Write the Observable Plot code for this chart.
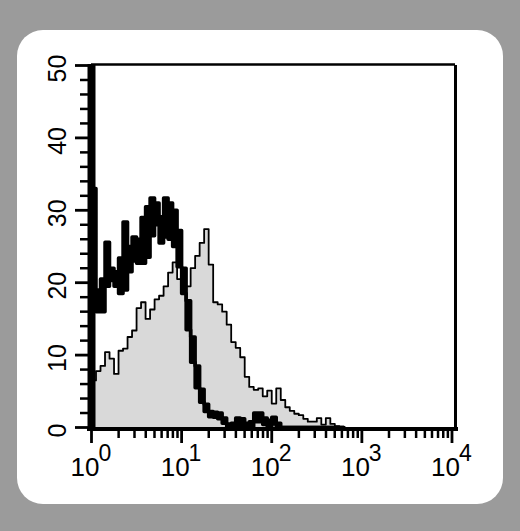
<!DOCTYPE html>
<html>
<head>
<meta charset="utf-8">
<script src="https://cdn.jsdelivr.net/npm/d3@7"></script>
<script src="https://cdn.jsdelivr.net/npm/@observablehq/plot@0.6"></script>
<style>
  html, body { margin: 0; padding: 0; }
  body { width: 520px; height: 531px; background: #9b9b9b; position: relative; overflow: hidden; }
  #panel { position: absolute; left: 17px; top: 30px; width: 486px; height: 474px; background: #ffffff; border-radius: 26px; }
  #chart { position: absolute; left: 0; top: 0; }
</style>
</head>
<body>
<div id="panel"></div>
<div id="chart"></div>
<script>
// Histogram channels: bins of 0.05 decade starting at 10^0
const binStep = 0.05;

// Gray filled histogram (thin outline)
const grayCounts = [
  6.5, 7.8, 8.5, 10.4, 9.5, 7.4, 10.6, 10.9, 12.5, 13.4,
  16.5, 17.3, 15.0, 16.3, 17.7, 18.2, 19.5, 21.4, 22.8, 20.5,
  18.5, 19.5, 22.0, 23.7, 25.5, 27.4, 22.5, 17.3, 17.0, 16.0,
  14.2, 11.8, 11.0, 9.7, 7.0, 5.6, 5.2, 5.4, 4.3, 5.1,
  3.3, 5.4, 3.8, 2.8, 2.3, 1.9, 1.7, 1.2, 0.8, 0.8,
  1.3, 0.4, 1.3, 0.5, 0.2, 0
];

// Thick black histogram: upper and lower envelope of the noisy channel counts
const blackHigh = [
  33, 19, 20.5, 25.6, 22, 21.5, 23.4, 28.4, 25, 26.3,
  26, 29, 30.5, 31.7, 31, 29.1, 31.7, 31, 30, 27.2,
  22, 17.5, 12.5, 8.5, 5.3, 3.2, 2.2, 2.1, 2.0, 1.3,
  0.5, 0.6, 1.3, 1.2, 0.6, 0.8, 2.0, 2.0, 1.3, 1.0,
  1.4, 0.6, 0, 0, 0, 0, 0, 0, 0, 0,
  0, 0, 0, 0, 0, 0
];
const blackLow = [
  16.5, 16, 16, 19.5, 20.3, 19.5, 18.5, 19, 21.5, 23,
  22.7, 22.7, 23.5, 26.5, 28, 25.5, 26.3, 26, 25, 22.2,
  18.5, 13.5, 9, 5.5, 3.5, 2.2, 1.5, 1.4, 1.2, 0.6,
  0, 0, 0.3, 0.3, 0, 0, 0.8, 0.8, 0.4, 0,
  0.5, 0, 0, 0, 0, 0, 0, 0, 0, 0,
  0, 0, 0, 0, 0, 0
];

// Axis ticks
const yMajor = [0, 10, 20, 30, 40, 50];
const yMinor = [2, 4, 6, 8, 12, 14, 16, 18, 22, 24, 26, 28, 32, 34, 36, 38, 42, 44, 46, 48];
const xMajor = [1, 10, 100, 1000, 10000];
const xExponents = ["0", "1", "2", "3", "4"];
const xMinor = xMajor.slice(0, 4).flatMap(p => [2, 3, 4, 5, 6, 7, 8, 9].map(m => m * p));

function stepRows(values) {
  const rows = values.map((v, i) => ({x: Math.pow(10, i * binStep), y: v}));
  rows.push({x: Math.pow(10, values.length * binStep), y: values[values.length - 1]});
  return rows;
}
const grayRows = stepRows(grayCounts);
const highRows = stepRows(blackHigh);
const lowRows = stepRows(blackLow);
const bandRows = highRows.map((r, i) => ({x: r.x, y1: lowRows[i].y, y2: r.y}));
const labelRows = xMajor.map((v, i) => ({v, e: xExponents[i]}));

const xMax = Math.pow(10, 4.039);
const font = "'Liberation Sans', Arial, Helvetica, sans-serif";

const chart = Plot.plot({
  width: 520,
  height: 531,
  marginLeft: 91,
  marginRight: 65,
  marginTop: 65,
  marginBottom: 104,
  x: {type: "log", domain: [1, xMax]},
  y: {domain: [0, 50]},
  style: {background: "transparent", fontFamily: font, overflow: "visible"},
  marks: [
    Plot.areaY(grayRows, {x: "x", y: "y", curve: "step-after", fill: "#d9d9d9"}),
    Plot.lineY(grayRows, {x: "x", y: "y", curve: "step-after", stroke: "#000", strokeWidth: 1.8}),
    Plot.areaY(bandRows, {x: "x", y1: "y1", y2: "y2", curve: "step-after", fill: "#000"}),
    Plot.lineY(highRows, {x: "x", y: "y", curve: "step-after", stroke: "#000", strokeWidth: 3.5}),
    Plot.lineY(lowRows, {x: "x", y: "y", curve: "step-after", stroke: "#000", strokeWidth: 3.5}),
    // frame
    Plot.ruleY([50], {stroke: "#000", strokeWidth: 2.5, dy: -1}),
    Plot.ruleX([xMax], {stroke: "#000", strokeWidth: 3}),
    Plot.ruleY([0], {stroke: "#000", strokeWidth: 4, dy: 1.5, insetLeft: -4, insetRight: -3}),
    Plot.ruleX([1], {stroke: "#000", strokeWidth: 8, insetTop: -1, insetBottom: -4}),
    // ticks
    Plot.axisX(xMinor, {tickSize: 11, strokeWidth: 2.5, tickFormat: () => "", label: null}),
    Plot.axisX(xMajor, {tickSize: 16, strokeWidth: 2.8, tickFormat: () => "", label: null}),
    Plot.axisY(yMinor, {tickSize: 11, strokeWidth: 2.5, tickFormat: () => "", label: null}),
    Plot.axisY(yMajor, {tickSize: 16, strokeWidth: 2.8, tickFormat: () => "", label: null}),
    // tick labels
    Plot.text(yMajor, {y: d => d, text: d => String(d), frameAnchor: "left", textAnchor: "middle", lineAnchor: "middle", rotate: -90, dx: -34, dy: 3, fontSize: 25, fill: "#000"}),
    Plot.text(labelRows, {x: "v", text: () => "10", frameAnchor: "bottom", textAnchor: "end", lineAnchor: "bottom", dx: 8, dy: 48, fontSize: 26, fill: "#000"}),
    Plot.text(labelRows, {x: "v", text: "e", frameAnchor: "bottom", textAnchor: "start", lineAnchor: "bottom", dx: 7, dy: 33, fontSize: 23, fill: "#000"})
  ]
});
document.getElementById("chart").appendChild(chart);
</script>
</body>
</html>
